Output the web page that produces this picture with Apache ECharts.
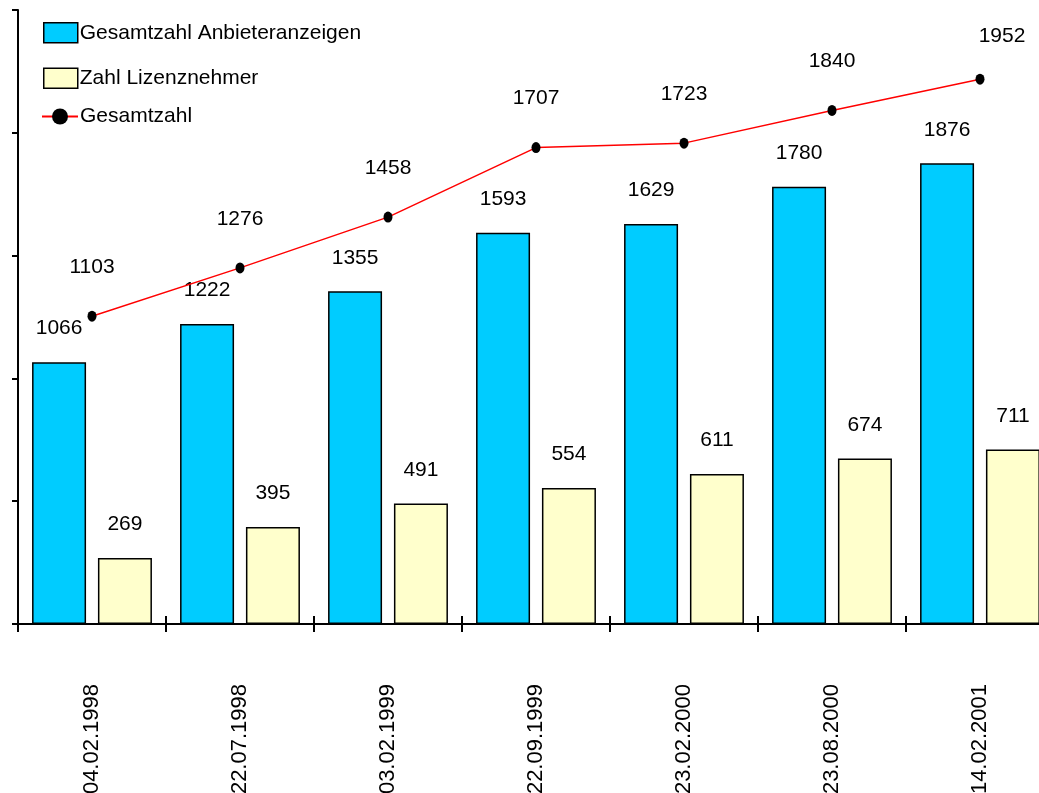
<!DOCTYPE html>
<html>
<head>
<meta charset="utf-8">
<script src="https://cdn.jsdelivr.net/npm/echarts@6/dist/echarts.min.js"></script>
<style>html,body{margin:0;padding:0;background:#fff}#c{width:1039px;height:793px}</style>
</head>
<body>
<div id="c"></div>
<script>
const categories = ['04.02.1998','22.07.1998','03.02.1999','22.09.1999','23.02.2000','23.08.2000','14.02.2001'];
const anbieter = [1066, 1222, 1355, 1593, 1629, 1780, 1876];
const lizenz = [269, 395, 491, 554, 611, 674, 711];
const gesamt = [1103, 1276, 1458, 1707, 1723, 1840, 1952];
const names = ['Gesamtzahl Anbieteranzeigen', 'Zahl Lizenznehmer', 'Gesamtzahl'];

const FONT = '"Liberation Sans", Arial, sans-serif';
const FS = 21;
const chart = echarts.init(document.getElementById('c'), null, {renderer: 'canvas'});
const lineData = gesamt.map((v, i) => i === gesamt.length - 1
  ? {value: v, label: {offset: [22, 6]}} : v);
chart.setOption({
  animation: false,
  backgroundColor: '#fff',
  textStyle: {fontFamily: FONT, color: '#000'},
  legend: [
    {
      data: [names[0], names[1]], orient: 'vertical', left: 43, top: 22, padding: 0,
      icon: 'rect', itemWidth: 34, itemHeight: 20, itemGap: 24,
      itemStyle: {borderColor: '#000', borderWidth: 1.5},
      textStyle: {fontSize: FS, color: '#000', fontFamily: FONT, padding: [0,0,0,-3]}
    },
    {
      data: [names[2]], orient: 'vertical', left: 41, top: 106, padding: 0,
      itemWidth: 36, itemHeight: 20,
      textStyle: {fontSize: FS, color: '#000', fontFamily: FONT, padding: [0,0,0,-3]}
    }
  ],
  grid: {left: 18, top: 10, width: 1036, height: 614, containLabel: false, outerBoundsMode: 'none'},
  xAxis: [
    {
      type: 'category', data: categories, position: 'bottom', z: 5,
      axisLine: {lineStyle: {color: '#000', width: 2}},
      axisTick: {show: true, length: 8, lineStyle: {color: '#000', width: 2}},
      axisLabel: {rotate: 90, margin: 60, fontSize: 22, color: '#000', fontFamily: FONT}
    },
    {
      type: 'category', data: categories, position: 'top', offset: -614, z: 5,
      axisLine: {show: false},
      axisTick: {show: true, length: 8, lineStyle: {color: '#000', width: 2}},
      axisLabel: {show: false}
    }
  ],
  yAxis: [
    {
      type: 'value', min: 0, max: 2500, interval: 500,
      axisLine: {show: true, lineStyle: {color: '#000', width: 2}},
      axisTick: {show: true, length: 6, lineStyle: {color: '#000', width: 2}},
      axisLabel: {show: false},
      splitLine: {show: false}
    },
    {
      type: 'value', min: 0, max: 2200, show: false,
      splitLine: {show: false}
    }
  ],
  series: [
    {
      name: names[0], type: 'bar', data: anbieter, barWidth: 54, barGap: '22%',
      itemStyle: {color: '#00CCFF', borderColor: '#000', borderWidth: 1.5},
      label: {show: true, position: 'top', distance: 23, fontSize: FS, color: '#000', fontFamily: FONT}
    },
    {
      name: names[1], type: 'bar', data: lizenz, barWidth: 54, barGap: '22%',
      itemStyle: {color: '#FFFFCC', borderColor: '#000', borderWidth: 1.5},
      label: {show: true, position: 'top', distance: 23, fontSize: FS, color: '#000', fontFamily: FONT}
    },
    {
      name: names[2], type: 'line', xAxisIndex: 1, yAxisIndex: 1, data: lineData,
      lineStyle: {color: '#FF0000', width: 1.5},
      itemStyle: {color: '#000'},
      symbol: 'circle', symbolSize: [9, 11],
      label: {show: true, position: 'top', distance: 33, fontSize: FS, color: '#000', fontFamily: FONT}
    }
  ]
});
</script>
</body>
</html>
